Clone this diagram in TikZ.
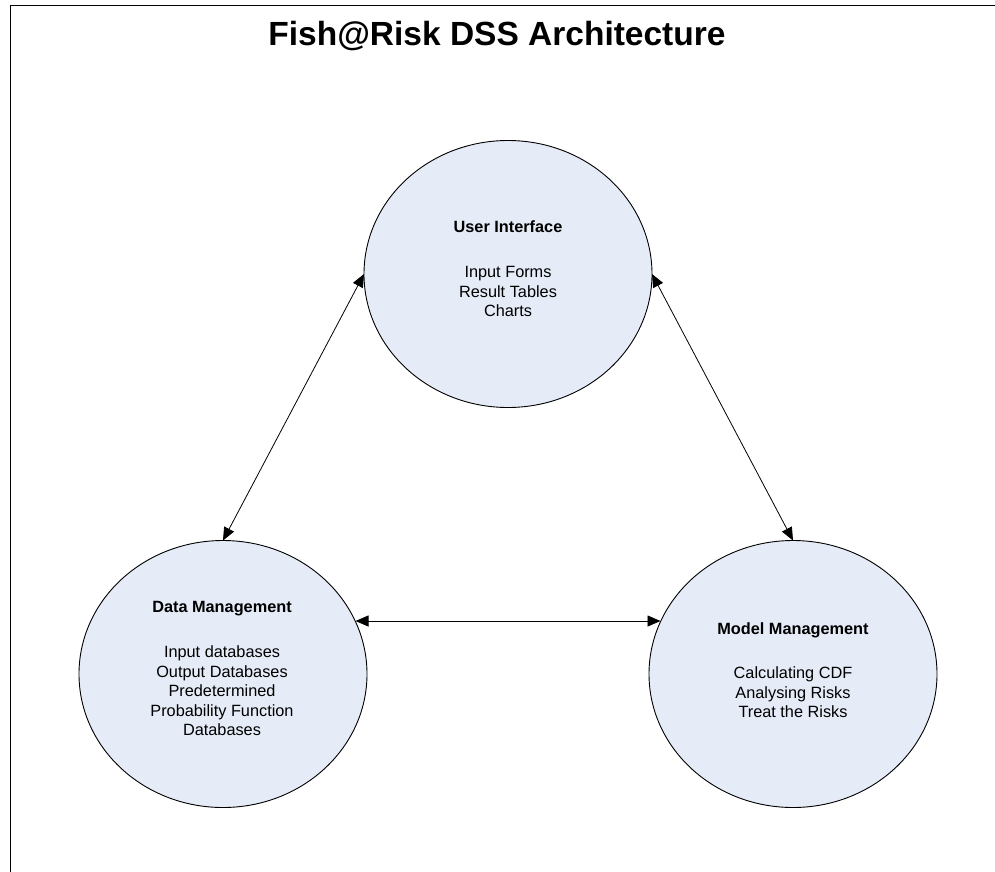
\documentclass[tikz,border=0pt]{standalone}
\usepackage{fontspec}
\setmainfont{Liberation Sans}
\usetikzlibrary{shapes.geometric,arrows.meta,calc}
\definecolor{bubblefill}{RGB}{230,236,247}
\tikzset{
  bubble/.style={ellipse, draw=black, line width=0.9pt, fill=bubblefill,
    minimum width=288pt, minimum height=267pt, inner sep=0pt, outer sep=0pt},
  bubbletext/.style={align=center, inner sep=0pt,
    font=\fontsize{16.3}{19.5}\selectfont},
  link/.style={line width=0.8pt, {Triangle[length=13pt,width=11pt]}-{Triangle[length=13pt,width=11pt]}},
  frame/.style={line width=1.8pt, draw=black}
}
\begin{document}
\begin{tikzpicture}[x=1pt,y=-1pt]
  \useasboundingbox (0,0) rectangle (995,871);
  \clip (0,0) rectangle (995,871);
  % page frame, open towards the right and bottom edges
  \draw[frame] (10.5,900) -- (10.5,5.5) -- (1010,5.5);

  % title
  \node[anchor=base, font=\bfseries\fontsize{33.5}{40}\selectfont] (title) at (497,45)
    {Fish@Risk DSS Architecture};

  % the three components
  \node[bubble] (ui) at (508,274) {};
  \node[bubble] (dm) at (223,674) {};
  \node[bubble] (mm) at (793,674) {};

  \node[bubbletext] (uitext) at (508,269)
    {\textbf{User Interface}\\[25.5pt]Input Forms\\Result Tables\\Charts};
  \node[bubbletext] (dmtext) at (222,668.5)
    {\textbf{Data Management}\\[25.5pt]Input databases\\Output Databases\\Predetermined\\Probability Function\\Databases};
  \node[bubbletext] (mmtext) at (793,670.5)
    {\textbf{Model Management}\\[24.5pt]Calculating CDF\\Analysing Risks\\Treat the Risks};

  % border points of the lower pair, 53pt above their centres
  \coordinate (dmport) at ($(dm.center)+(132.5,-53)$);
  \coordinate (mmport) at ($(mm.center)+(-132.5,-53)$);

  % two-way connectors
  \draw[link] (ui.west) -- (dm.north);
  \draw[link] (ui.east) -- (mm.north);
  \draw[link] (dmport) -- (mmport);
\end{tikzpicture}
\end{document}
